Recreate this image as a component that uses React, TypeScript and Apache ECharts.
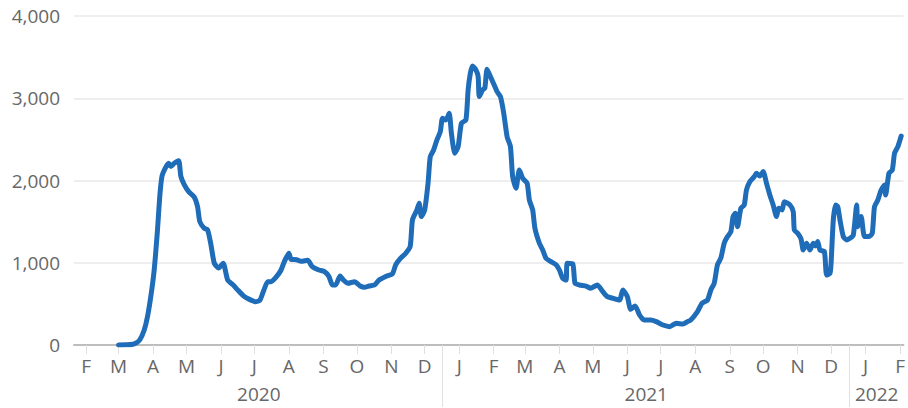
import React, { useEffect, useRef } from "react";
import * as echarts from "echarts";

// Axis range (daily categories)
const axisStart = "2020-01-21";
const axisDays = 746;

const monthLetters = ["J", "F", "M", "A", "M", "J", "J", "A", "S", "O", "N", "D"];
const yearLabels = ["2020", "2021", "2022"];
const yearSeparatorDay = "-12-17";
const yTicks = [0, 1000, 2000, 3000, 4000];

// Readings of the 7-day average (date, value)
const readDates = [
  "2020-03-01", "2020-03-08", "2020-03-14", "2020-03-17", "2020-03-20", "2020-03-24", "2020-03-27", "2020-03-30",
  "2020-04-02", "2020-04-05", "2020-04-07", "2020-04-09", "2020-04-12", "2020-04-15", "2020-04-17", "2020-04-20",
  "2020-04-24", "2020-04-26", "2020-04-29", "2020-05-03", "2020-05-08", "2020-05-11", "2020-05-13", "2020-05-17",
  "2020-05-20", "2020-05-23", "2020-05-26", "2020-05-30", "2020-06-03", "2020-06-07", "2020-06-12", "2020-06-16",
  "2020-06-21", "2020-06-25", "2020-06-29", "2020-07-02", "2020-07-06", "2020-07-09", "2020-07-13", "2020-07-16",
  "2020-07-21", "2020-07-25", "2020-07-28", "2020-08-01", "2020-08-03", "2020-08-08", "2020-08-12", "2020-08-18",
  "2020-08-22", "2020-08-28", "2020-09-02", "2020-09-06", "2020-09-09", "2020-09-12", "2020-09-16", "2020-09-19",
  "2020-09-23", "2020-09-29", "2020-10-04", "2020-10-08", "2020-10-12", "2020-10-17", "2020-10-21", "2020-10-27",
  "2020-11-02", "2020-11-05", "2020-11-09", "2020-11-14", "2020-11-18", "2020-11-20", "2020-11-24", "2020-11-26",
  "2020-11-28", "2020-12-01", "2020-12-04", "2020-12-06", "2020-12-09", "2020-12-12", "2020-12-15", "2020-12-17",
  "2020-12-20", "2020-12-23", "2020-12-25", "2020-12-28", "2020-12-31",
  "2021-01-03", "2021-01-07", "2021-01-09", "2021-01-11", "2021-01-13", "2021-01-16", "2021-01-18", "2021-01-19",
  "2021-01-22", "2021-01-24", "2021-01-26", "2021-01-29", "2021-02-02", "2021-02-04", "2021-02-07", "2021-02-10",
  "2021-02-13", "2021-02-16", "2021-02-18", "2021-02-21", "2021-02-24", "2021-02-27", "2021-03-03", "2021-03-05",
  "2021-03-08", "2021-03-10", "2021-03-14", "2021-03-17", "2021-03-20", "2021-03-24", "2021-03-29", "2021-04-01",
  "2021-04-04", "2021-04-07", "2021-04-08", "2021-04-13", "2021-04-15", "2021-04-19", "2021-04-25", "2021-04-29",
  "2021-05-05", "2021-05-10", "2021-05-14", "2021-05-19", "2021-05-25", "2021-05-28", "2021-06-01", "2021-06-04",
  "2021-06-08", "2021-06-12", "2021-06-16", "2021-06-22", "2021-06-27", "2021-07-03", "2021-07-09", "2021-07-15",
  "2021-07-21", "2021-07-25", "2021-07-28", "2021-08-03", "2021-08-07", "2021-08-12", "2021-08-15", "2021-08-18",
  "2021-08-21", "2021-08-24", "2021-08-27", "2021-08-30", "2021-09-02", "2021-09-04", "2021-09-06", "2021-09-08",
  "2021-09-11", "2021-09-14", "2021-09-16", "2021-09-19", "2021-09-23", "2021-09-25", "2021-09-28", "2021-10-01",
  "2021-10-04", "2021-10-07", "2021-10-10", "2021-10-13", "2021-10-15", "2021-10-18", "2021-10-20", "2021-10-25",
  "2021-10-28", "2021-10-29", "2021-11-01", "2021-11-04", "2021-11-06", "2021-11-09", "2021-11-12", "2021-11-15",
  "2021-11-17", "2021-11-19", "2021-11-21", "2021-11-25", "2021-11-27", "2021-11-30", "2021-12-01", "2021-12-03",
  "2021-12-05", "2021-12-07", "2021-12-09", "2021-12-12", "2021-12-15", "2021-12-18", "2021-12-21", "2021-12-24",
  "2021-12-25", "2021-12-28", "2021-12-31",
  "2022-01-04", "2022-01-07", "2022-01-09", "2022-01-12", "2022-01-15", "2022-01-18", "2022-01-19", "2022-01-22",
  "2022-01-25", "2022-01-27", "2022-01-30", "2022-02-02",
];

const deaths7d = [
  0, 2, 10, 25, 60, 180, 344, 590,
  910, 1400, 1800, 2050, 2150, 2210, 2170, 2210,
  2240, 2050, 1950, 1865, 1800, 1680, 1500, 1420,
  1400, 1220, 995, 935, 995, 790, 730, 670,
  600, 565, 540, 525, 545, 648, 770, 770,
  834, 912, 1017, 1115, 1040, 1037, 1017, 1029,
  952, 912, 893, 834, 730, 730, 840, 790,
  750, 770, 717, 701, 717, 730, 790, 834,
  866, 976, 1050, 1115, 1200, 1520, 1642, 1723,
  1561, 1642, 1966, 2290, 2371, 2493, 2594, 2756,
  2736, 2817, 2574, 2331, 2412,
  2696, 2736, 3101, 3304, 3393, 3345, 3264, 3020,
  3101, 3122, 3353, 3264, 3142, 3081, 3020, 2817,
  2533, 2412, 2047, 1905, 2128, 2027, 1966, 1763,
  1642, 1420, 1237, 1155, 1054, 1017, 976, 912,
  811, 790, 993, 985, 750, 730, 717, 690,
  730, 648, 588, 568, 547, 669, 588, 434,
  474, 365, 304, 304, 284, 243, 223, 264,
  255, 284, 304, 405, 507, 547, 669, 750,
  976, 1057, 1237, 1318, 1379, 1561, 1601, 1439,
  1662, 1703, 1885, 1986, 2047, 2088, 2055, 2108,
  1966, 1824, 1703, 1561, 1662, 1642, 1743, 1703,
  1622, 1398, 1358, 1290, 1155, 1237, 1155, 1237,
  1204, 1257, 1155, 1135, 851, 872, 993, 1520,
  1703, 1682, 1520, 1318, 1277, 1297, 1338, 1703,
  1439, 1561, 1318,
  1318, 1358, 1682, 1763, 1885, 1946, 1824, 2088,
  2128, 2331, 2412, 2540,
];

const FONT = "'Open Sans', sans-serif";
const TEXT = "#676767";

export default function App() {
  const ref = useRef<HTMLDivElement>(null);

  useEffect(() => {
    if (!ref.current) return;
    const chart = echarts.init(ref.current, undefined, { renderer: "svg" });

    const t0 = Date.parse(axisStart + "T00:00:00Z");
    const days: string[] = [];
    for (let i = 0; i < axisDays; i++) {
      days.push(new Date(t0 + i * 86400000).toISOString().slice(0, 10));
    }
    const byDate = new Map<string, number>();
    readDates.forEach((d, i) => byDate.set(d, deaths7d[i]));
    const seriesData = days.map((d) => (byDate.has(d) ? byDate.get(d)! : null));

    const sepIdx: number[] = [];
    days.forEach((d, i) => {
      if (d.endsWith(yearSeparatorDay)) sepIdx.push(i);
    });
    const bounds = [0, ...sepIdx, axisDays - 1];
    const yearIdx = new Map<number, string>();
    yearLabels.forEach((y, k) => {
      if (k + 1 < bounds.length) yearIdx.set(Math.round((bounds[k] + bounds[k + 1]) / 2), y);
    });

    const isMonthStart = (_i: number, v: string) => v.slice(8, 10) === "01";

    chart.setOption({
      animation: false,
      grid: { left: 74, right: 0, top: 16, bottom: 63, containLabel: false },
      xAxis: [
        {
          type: "category",
          data: days,
          boundaryGap: false,
          position: "bottom",
          axisLine: { show: true, lineStyle: { color: "#bdbdbd", width: 2 } },
          axisTick: {
            show: true,
            interval: isMonthStart,
            length: 9,
            lineStyle: { color: "#e0e0e0", width: 1 },
          },
          axisLabel: {
            interval: isMonthStart,
            formatter: (v: string) => monthLetters[parseInt(v.slice(5, 7), 10) - 1],
            color: TEXT,
            fontFamily: FONT,
            fontSize: 19,
            margin: 11,
          },
          splitLine: { show: false },
        },
        {
          type: "category",
          data: days,
          boundaryGap: false,
          position: "bottom",
          axisLine: { show: false },
          axisTick: {
            show: true,
            interval: (i: number) => sepIdx.includes(i),
            length: 62,
            lineStyle: { color: "#e0e0e0", width: 1 },
          },
          axisLabel: {
            interval: (i: number) => yearIdx.has(i),
            formatter: (_v: string, i: number) => yearIdx.get(i) ?? "",
            color: TEXT,
            fontFamily: FONT,
            fontSize: 19,
            margin: 39,
          },
          splitLine: { show: false },
        },
      ],
      yAxis: {
        type: "value",
        min: yTicks[0],
        max: yTicks[yTicks.length - 1],
        interval: 1000,
        axisLine: { show: false },
        axisTick: { show: false },
        axisLabel: {
          color: TEXT,
          fontFamily: FONT,
          fontSize: 19,
          margin: 14,
          padding: [6, 0, 0, 0],
          formatter: (v: number) => v.toLocaleString("en-US"),
        },
        splitLine: { show: true, lineStyle: { color: "#e8e8e8", width: 1.5 } },
      },
      series: [
        {
          type: "line",
          data: seriesData,
          connectNulls: true,
          showSymbol: false,
          symbol: "none",
          smooth: 0.2,
          lineStyle: { color: "#1f6cb8", width: 5, cap: "round", join: "round" },
          z: 5,
        },
      ],
    });

    return () => chart.dispose();
  }, []);

  return (
    <div
      ref={ref}
      style={{ position: "fixed", left: 0, top: 0, width: 908, height: 408, background: "#ffffff" }}
    />
  );
}
